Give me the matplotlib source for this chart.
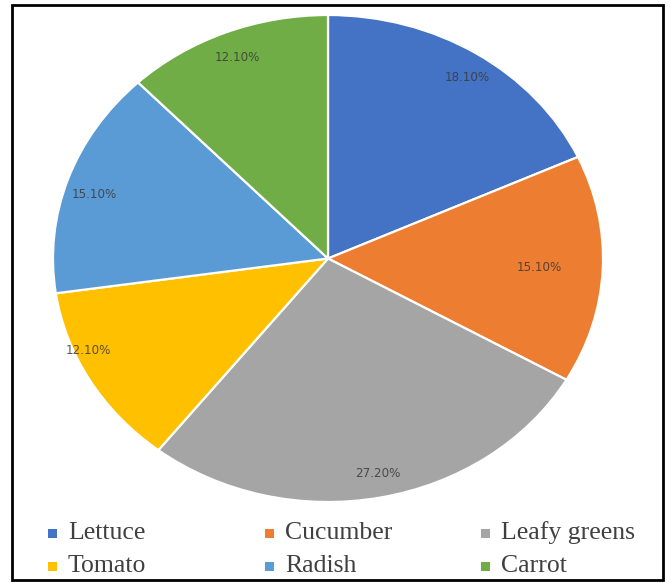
import matplotlib
matplotlib.use('Agg')
import matplotlib.pyplot as plt
import numpy as np
from matplotlib.patches import Rectangle

# vegetable share data
categories = ['Lettuce', 'Cucumber', 'Leafy greens', 'Tomato', 'Radish', 'Carrot']
shares = [18.1, 15.1, 27.2, 12.1, 15.1, 12.1]
colors = ['#4472C4', '#ED7D31', '#A5A5A5', '#FFC000', '#5B9BD5', '#70AD47']

# where the percent labels sit inside each wedge
label_radius = [0.90, 0.77, 0.90, 0.95, 0.89, 0.89]
label_turn = [-1.5, 0.0, 0.5, -6.5, 1.8, 0.0]

W, H = 670, 583
fig = plt.figure(figsize=(W / 100, H / 100), dpi=100)

# pie axes, stretched a bit wider than tall
ax = fig.add_axes([53 / W, 1 - 502 / H, 550 / W, 487 / H])
wedges, _ = ax.pie(shares, colors=colors, startangle=90, counterclock=False,
                   wedgeprops=dict(edgecolor='white', linewidth=1.6))
ax.set_aspect('auto')
ax.set_xlim(-1, 1)
ax.set_ylim(-1, 1)
ax.axis('off')

# percent labels
total = sum(shares)
start = 90.0
for i, v in enumerate(shares):
    ext = v / total * 360
    mid = np.deg2rad(start - ext / 2 + label_turn[i])
    r = label_radius[i]
    ax.text(r * np.cos(mid), r * np.sin(mid), '%.2f%%' % v,
            ha='center', va='center', fontsize=8.6, color='#3a3a3a', alpha=0.85)
    start -= ext

# legend in two rows of three
col_x = [68, 285, 501]
row_y = [533, 566]
for i, name in enumerate(categories):
    cx = col_x[i % 3]
    cy = row_y[i // 3]
    fig.patches.append(Rectangle(((cx - 20) / W, 1 - (cy + 5) / H), 9 / W, 9 / H,
                                 transform=fig.transFigure, facecolor=colors[i],
                                 edgecolor='none'))
    fig.text(cx / W, 1 - cy / H, name, ha='left', va='center',
             fontsize=18.5, family='Liberation Serif', color='#404040')

# outer frame
fig.patches.append(Rectangle((12 / W, 1 - 580 / H), 651 / W, 575 / H,
                             transform=fig.transFigure, fill=False,
                             edgecolor='black', linewidth=2))

fig.savefig('out.png', dpi=100)
